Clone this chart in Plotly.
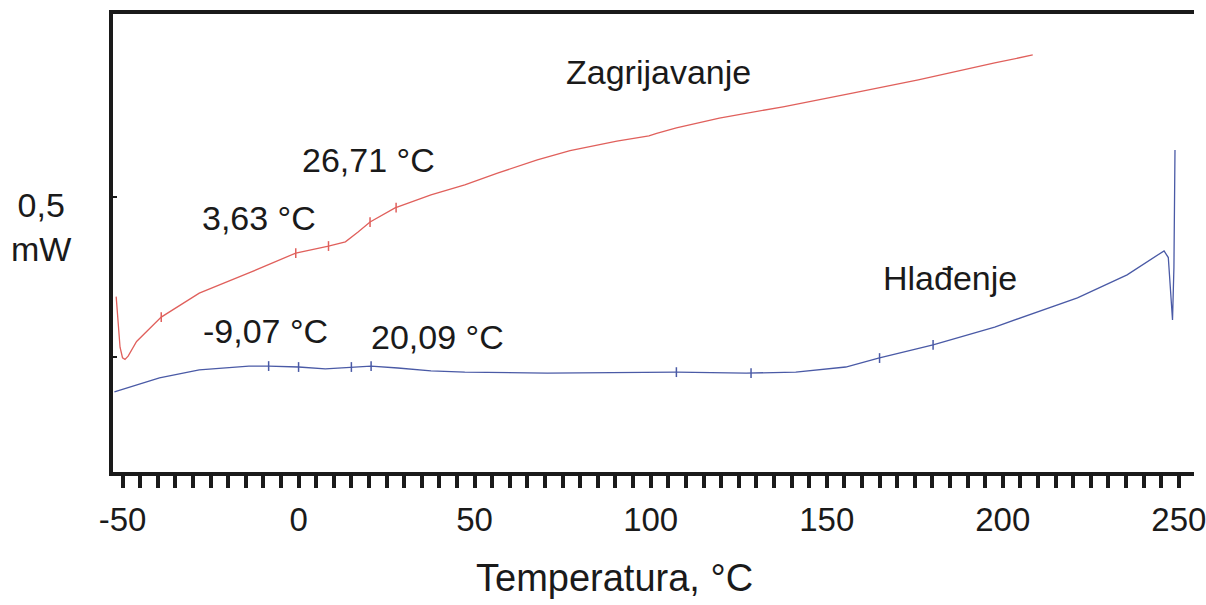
import plotly.graph_objects as go

# DSC curve: temperature (°C) vs heat flow (mW, arbitrary offset)
heat_t = [-51.8, -51.3, -50.7, -50.0, -49.3, -48.4, -46.0, -39.0, -28.2, -14.1, -0.8, 8.5,
          13.3, 16.9, 20.3, 27.4, 37.6, 47.2, 56.5, 67.8, 77.1, 90.4, 99.5, 101.7, 107.3,
          119.5, 137.6, 157.3, 176.0, 197.7, 208.5]
heat_mw = [0.548, 0.46, 0.39, 0.357, 0.352, 0.362, 0.408, 0.484, 0.559, 0.622, 0.684, 0.706,
           0.719, 0.750, 0.781, 0.825, 0.866, 0.897, 0.934, 0.975, 1.004, 1.034, 1.050, 1.058,
           1.075, 1.106, 1.141, 1.184, 1.225, 1.278, 1.303]

cool_t = [-52.3, -39.5, -28.2, -14.1, -8.5, 0.0, 7.6, 15.0, 20.6, 28.2, 37.6, 47.2, 70.6,
          107.3, 127.1, 141.2, 155.4, 164.7, 180.2, 197.7, 221.2, 235.3, 244.9, 245.8,
          247.0, 247.8, 248.2, 248.6, 248.9]
cool_mw = [0.250, 0.294, 0.319, 0.331, 0.331, 0.328, 0.322, 0.328, 0.331, 0.325, 0.316, 0.312,
           0.309, 0.312, 0.309, 0.312, 0.328, 0.356, 0.397, 0.453, 0.544, 0.616, 0.684, 0.691,
           0.670, 0.520, 0.475, 0.640, 1.006]

# evaluation marks (onset / endset ticks) on each curve
heat_mark_t = [-39.0, -0.8, 8.5, 20.3, 27.7]
heat_mark_mw = [0.484, 0.684, 0.706, 0.781, 0.826]
cool_mark_t = [-8.5, 0.0, 15.0, 20.6, 107.3, 128.5, 165.0, 180.2]
cool_mark_mw = [0.331, 0.328, 0.328, 0.331, 0.312, 0.309, 0.356, 0.397]

labels = ["Zagrijavanje", "26,71 °C", "3,63 °C", "-9,07 °C", "20,09 °C", "Hlađenje"]
label_t = [102.3, 19.8, -11.3, -9.3, 39.5, 185.0]
label_mw = [1.25, 0.975, 0.794, 0.44, 0.422, 0.606]

tick_vals = [-50, 0, 50, 100, 150, 200, 250]
tick_text = ["-50", "0", "50", "100", "150", "200", "250"]

RED = "#e0605c"
BLUE = "#4a5aa6"
INK = "#1a1a1a"
FONT = "Liberation Sans, Arial, sans-serif"

fig = go.Figure()
fig.add_trace(go.Scatter(x=heat_t, y=heat_mw, mode="lines",
                         line={"color": RED, "width": 1.3}, hoverinfo="skip"))
fig.add_trace(go.Scatter(x=cool_t, y=cool_mw, mode="lines",
                         line={"color": BLUE, "width": 1.3}, hoverinfo="skip"))
fig.add_trace(go.Scatter(x=heat_mark_t, y=heat_mark_mw, mode="markers",
                         marker={"symbol": "line-ns", "size": 7,
                                 "line": {"color": RED, "width": 1.5}}))
fig.add_trace(go.Scatter(x=cool_mark_t, y=cool_mark_mw, mode="markers",
                         marker={"symbol": "line-ns", "size": 7,
                                 "line": {"color": BLUE, "width": 1.5}}))

for text, tx, ty in zip(labels, label_t, label_mw):
    fig.add_annotation(x=tx, y=ty, text=text, showarrow=False,
                       font={"size": 34, "color": INK, "family": FONT})

fig.add_annotation(x=-0.067, y=0.535, xref="paper", yref="paper", text="0,5<br>mW",
                   xanchor="center", yanchor="middle", showarrow=False,
                   font={"size": 34, "color": INK, "family": FONT})
fig.add_annotation(x=0.464, y=-0.232, xref="paper", yref="paper", text="Temperatura, °C",
                   xanchor="center", yanchor="middle", showarrow=False,
                   font={"size": 38, "color": INK, "family": FONT})

fig.update_layout(
    width=1206,
    height=605,
    margin={"l": 113, "r": 0, "t": 14, "b": 133},
    paper_bgcolor="white",
    plot_bgcolor="white",
    showlegend=False,
    font={"family": FONT, "color": INK},
    xaxis={
        "range": [-52.7, 254.3],
        "showgrid": False,
        "zeroline": False,
        "showline": True,
        "linecolor": INK,
        "linewidth": 4,
        "mirror": True,
        "ticks": "outside",
        "ticklen": 12,
        "tickwidth": 4,
        "tickcolor": INK,
        "tickvals": tick_vals,
        "ticktext": tick_text,
        "ticklabelstandoff": 3,
        "ticklabeloverflow": "allow",
        "tickfont": {"size": 33, "family": FONT, "color": INK},
        "minor": {"dtick": 5, "tick0": 0, "ticks": "outside", "ticklen": 12,
                  "tickwidth": 4, "tickcolor": INK, "showgrid": False},
    },
    yaxis={
        "range": [0, 1.431],
        "showgrid": False,
        "zeroline": False,
        "showline": True,
        "linecolor": INK,
        "linewidth": 4,
        "ticks": "inside",
        "ticklen": 4,
        "tickwidth": 2,
        "tickcolor": INK,
        "tickvals": [0.36, 0.86],
        "showticklabels": False,
    },
)

# drop the default page margin so the figure sits flush in the window
fig.write_html("out.html", config={"displayModeBar": False},
               post_script="document.body.style.margin='0';"
               "document.documentElement.style.overflow='hidden';")
